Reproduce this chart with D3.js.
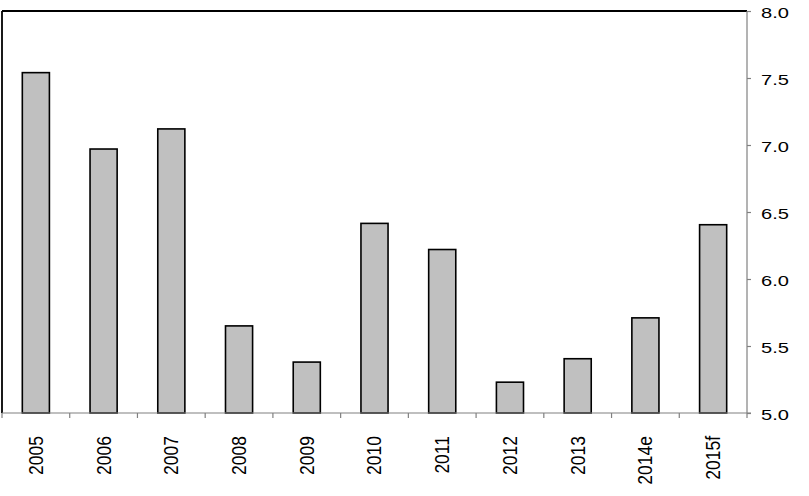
<!DOCTYPE html>
<html><head><meta charset="utf-8">
<script src="https://cdn.jsdelivr.net/npm/d3@7"></script>
<style>body{margin:0;background:#fff}svg{display:block}text{font-family:"Liberation Sans",Arial,sans-serif;fill:#000}</style>
</head><body>
<svg id="c" width="809" height="496"></svg>
<script>
const categories = ["2005","2006","2007","2008","2009","2010","2011","2012","2013","2014e","2015f"];
const values = [7.54, 6.97, 7.12, 5.65, 5.38, 6.415, 6.22, 5.23, 5.405, 5.71, 6.405];
const yTicks = [5.0, 5.5, 6.0, 6.5, 7.0, 7.5, 8.0];

const svg = d3.select("#c");
const L = 2, R = 747, T = 11, B = 413;
const x = d3.scaleBand().domain(categories).range([L, R]).paddingInner(0.6).paddingOuter(0.3);
const y = d3.scaleLinear().domain([5, 8]).range([B, T]);
const step = x.step();

// bars
svg.append("g").selectAll("rect").data(values).join("rect")
  .attr("x", (d,i) => x(categories[i]))
  .attr("y", d => y(d))
  .attr("width", x.bandwidth())
  .attr("height", d => y(5) - y(d))
  .attr("fill", "#c0c0c0").attr("stroke", "#000").attr("stroke-width", 1.6);

// plot border top & left
svg.append("line").attr("x1", L).attr("x2", R).attr("y1", T).attr("y2", T).attr("stroke", "#000").attr("stroke-width", 1.8);
svg.append("line").attr("x1", L).attr("x2", L).attr("y1", T).attr("y2", B).attr("stroke", "#000").attr("stroke-width", 1.8);

// right axis
const ya = svg.append("g").attr("transform", `translate(${R},0)`)
  .call(d3.axisRight(y).tickValues(yTicks).tickSize(4).tickFormat(d3.format(".1f")));
ya.select(".domain").attr("stroke", "#808080").attr("stroke-width", 1.2).attr("d", `M0,${T}V${B}`);
ya.selectAll(".tick line").attr("stroke", "#808080").attr("stroke-width", 1.2);
ya.selectAll(".tick text").attr("x", 0).attr("dy", null)
  .attr("font-size", 15).attr("font-family", "Liberation Sans, Arial, sans-serif").attr("fill", "#000")
  .attr("text-anchor", "start").attr("dominant-baseline", "central")
  .attr("transform", "translate(14,1) scale(1.34,1)");

// bottom axis line
svg.append("line").attr("x1", L).attr("x2", R + 4).attr("y1", B).attr("y2", B).attr("stroke", "#808080").attr("stroke-width", 1.2);
// category boundary ticks
const bounds = categories.map(c => x(c) + x.bandwidth()/2 - step/2).concat([R]);
svg.append("g").selectAll("line").data(bounds).join("line")
  .attr("x1", d => d).attr("x2", d => d).attr("y1", B).attr("y2", B + 5)
  .attr("stroke", "#808080").attr("stroke-width", 1.2);

// category labels (rotated)
svg.append("g").selectAll("text").data(categories).join("text")
  .attr("transform", d => `translate(${x(d) + x.bandwidth()/2},436) rotate(-90) scale(1,1.15)`)
  .attr("text-anchor", "end").attr("dominant-baseline", "central")
  .attr("font-size", 17.5).text(d => d);
</script>
</body></html>
